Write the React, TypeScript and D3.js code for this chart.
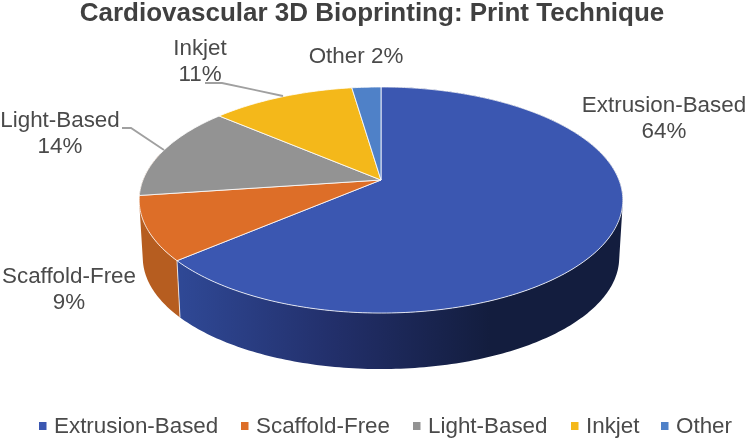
import React from 'react';
import * as d3 from 'd3';

const categories = ['Extrusion-Based', 'Scaffold-Free', 'Light-Based', 'Inkjet', 'Other'];
const percents = [63.7, 9.1, 13.5, 11.4, 2.3];
const colors = ['#3b57b1', '#dd6e28', '#939393', '#f4b81a', '#4f81c8'];
const wallColors = ['url(#wallBlue)', '#b65d20'];

const font = '"Liberation Sans", Arial, sans-serif';
const textColor = '#4a4a4a';

// perspective disc: apex of the slices sits above the ellipse centre
const cx = 381, cy = 180;
const a = 238, b = 109.5, k = 0.177;
const drop = 58, shrink = 0.985;

function top(t: number): [number, number] {
  const u = Math.sin(t), v = -Math.cos(t);
  const w = 1 - k * v;
  return [cx + a * u / w, cy + b * v / w];
}

function bottom(t: number): [number, number] {
  const [x, y] = top(t);
  return [cx + (x - cx) * shrink, cy + drop + (y - cy) * shrink];
}

const line = d3.line();
const pie = d3.pie<number>().sort(null);
const slices = pie(percents);

function samples(t0: number, t1: number) {
  const n = Math.max(2, Math.ceil((t1 - t0) * 60));
  return d3.range(n + 1).map(i => t0 + (t1 - t0) * i / n);
}

function topPath(s: d3.PieArcDatum<number>) {
  const pts = samples(s.startAngle, s.endAngle).map(top);
  return line([[cx, cy], ...pts]) + 'Z';
}

// wall as a run of quads, all wound the same way so the fill doesn't cancel at the silhouette
function wallPath(t0: number, t1: number) {
  const ts = samples(t0, t1);
  return d3.pairs(ts).map(([p, q]) => {
    const quad = [top(p), top(q), bottom(q), bottom(p)];
    if (d3.polygonArea(quad) < 0) quad.reverse();
    return line(quad) + 'Z';
  }).join('');
}

// only the front slices show a wall; the orange one runs on round the left edge
const walls = [
  [slices[0].startAngle, slices[0].endAngle],
  [slices[1].startAngle, slices[1].endAngle + 0.4],
];

const labels = [
  { lines: [categories[0], Math.round(percents[0]) + '%'], x: 664, y: 112 },
  { lines: [categories[1], Math.round(percents[1]) + '%'], x: 69, y: 283 },
  { lines: [categories[2], Math.round(percents[2]) + '%'], x: 60, y: 127 },
  { lines: [categories[3], Math.round(percents[3]) + '%'], x: 200, y: 55 },
  { lines: [categories[4] + ' ' + Math.round(percents[4]) + '%'], x: 356, y: 63 },
];

const leaders: [number, number][][] = [
  [[205, 83], [222, 83], [283, 96]],
  [[122, 128], [131, 128], [164, 150]],
];

const legendX = [39, 241, 413, 571, 661];

export default function App() {
  return (
    <svg width={747} height={440} style={{ position: 'absolute', left: 0, top: 0, background: '#fff', filter: 'blur(0.4px)' }}>
      <defs>
        <linearGradient id="wallBlue" gradientUnits="userSpaceOnUse" x1={181} x2={490} y1={0} y2={0}>
          <stop offset="0" stopColor="#2f4895" />
          <stop offset="0.5" stopColor="#222f6a" />
          <stop offset="1" stopColor="#131d3e" />
        </linearGradient>
      </defs>

      <text x={372} y={21} textAnchor="middle" fontFamily={font} fontWeight="bold" fontSize={26} fill="#404040">
        Cardiovascular 3D Bioprinting: Print Technique
      </text>

      {walls.map(([t0, t1], i) => (
        <path key={i} d={wallPath(t0, t1)} fill={wallColors[i]} />
      ))}
      <path d={line([top(slices[0].endAngle), bottom(slices[0].endAngle)])!} stroke="#fff" strokeOpacity={0.75} fill="none" />
      {slices.map((s, i) => (
        <path key={i} d={topPath(s)} fill={colors[i]} stroke="#fff" strokeOpacity={0.8} strokeWidth={1} strokeLinejoin="round" />
      ))}

      {leaders.map((l, i) => (
        <path key={i} d={line(l)!} fill="none" stroke="#a0a0a0" strokeWidth={1.8} />
      ))}

      {labels.map((l, i) => (
        <text key={i} textAnchor="middle" fontFamily={font} fontSize={22.4} fill={textColor}>
          {l.lines.map((t, j) => (
            <tspan key={j} x={l.x} y={l.y + j * 26}>{t}</tspan>
          ))}
        </text>
      ))}

      {categories.map((c, i) => (
        <g key={c}>
          <rect x={legendX[i]} y={422} width={7.5} height={8} fill={colors[i]} />
          <text x={legendX[i] + 15} y={433} fontFamily={font} fontSize={22.4} fill={textColor}>{c}</text>
        </g>
      ))}
    </svg>
  );
}
